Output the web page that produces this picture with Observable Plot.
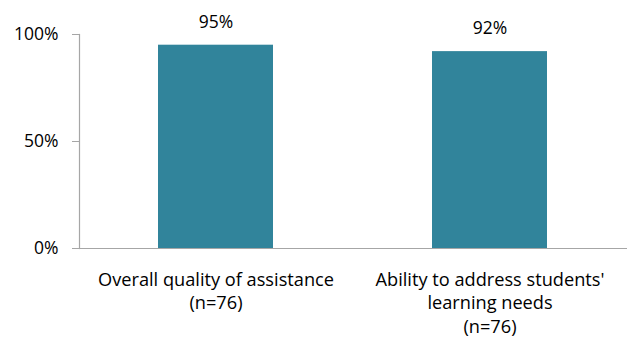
<!DOCTYPE html>
<html>
<head>
<meta charset="utf-8">
<script src="https://cdn.jsdelivr.net/npm/d3@7"></script>
<script src="https://cdn.jsdelivr.net/npm/@observablehq/plot@0.6"></script>
<style>
  html, body { margin: 0; padding: 0; background: #fff; }
  #chart svg { display: block; }
</style>
</head>
<body>
<div id="chart"></div>
<script>
const categories = ["Overall quality of assistance\n(n=76)", "Ability to address students'\nlearning needs\n(n=76)"];
const values = [95, 92];
const valueLabels = ["95%", "92%"];
const yTicks = [0, 50, 100];
const yTickLabels = ["0%", "50%", "100%"];

const data = categories.map((c, i) => ({cat: c, value: values[i], label: valueLabels[i]}));
const font = "'Open Sans', sans-serif";
const fs = 17.5;

const chart = Plot.plot({
  width: 629,
  height: 339,
  marginLeft: 79,
  marginRight: 2,
  marginTop: 34,
  marginBottom: 91,
  style: {fontFamily: font, fontSize: fs + "px", color: "#000", background: "#fff"},
  x: {domain: categories, paddingInner: 0.58, paddingOuter: 0.29, label: null},
  y: {domain: [0, 100], label: null},
  marks: [
    Plot.barY(data, {x: "cat", y: "value", fill: "#31849B"}),
    Plot.text(data, {x: "cat", y: "value", text: "label", dy: -23, fontSize: fs, fill: "#000"}),
    Plot.ruleY([0], {stroke: "#A6A6A6", strokeWidth: 1.2}),
    Plot.frame({anchor: "left", stroke: "#A6A6A6", strokeWidth: 1.2}),
    Plot.axisY({ticks: yTicks, tickFormat: (d) => yTickLabels[yTicks.indexOf(d)], tickSize: 7, tickPadding: 14, stroke: "#A6A6A6", fill: "#000", fontSize: fs, label: null}),
    Plot.axisX({tickSize: 0, tickPadding: 21, lineHeight: 1.28, fontSize: 18.2, fill: "#000", label: null, lineAnchor: "top"})
  ]
});
document.getElementById("chart").appendChild(chart);
</script>
</body>
</html>
